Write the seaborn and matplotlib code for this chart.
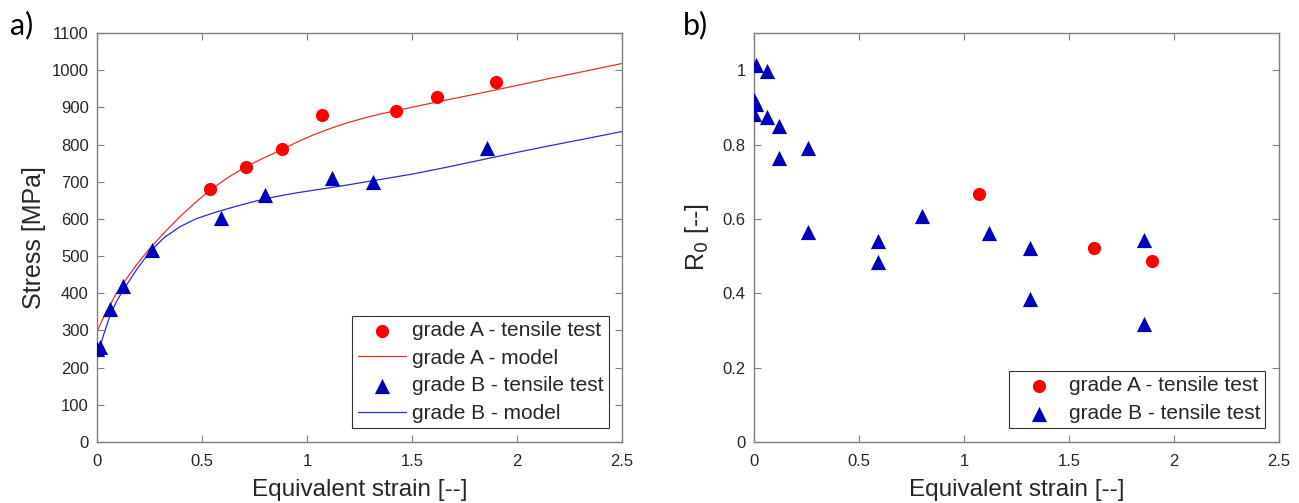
import matplotlib
matplotlib.use("Agg")
import matplotlib.pyplot as plt
import seaborn as sns
import numpy as np
import pandas as pd

# ---- data ----
a_strain = [0.54, 0.708, 0.881, 1.073, 1.422, 1.62, 1.899]
a_stress = [680, 739, 789, 879, 891, 928, 967]

b_strain = [0.0, 0.012, 0.062, 0.124, 0.262, 0.59, 0.80, 1.118, 1.316, 1.859]
b_stress = [250, 256, 357, 420, 516, 602, 665, 709, 698, 791]

a_model_x = [0.0, 0.03, 0.062, 0.09, 0.125, 0.19, 0.252, 0.32, 0.395, 0.47,
             0.54, 0.62, 0.705, 0.79, 0.879, 0.95, 1.03, 1.11, 1.189, 1.27,
             1.348, 1.506, 1.665, 1.824, 2.0, 2.157, 2.33, 2.5]
a_model_y = [297, 334, 368, 398, 427, 478, 521, 563, 606, 645,
             678, 710, 739, 763, 786, 806, 826, 843, 858, 871,
             882, 901, 920, 938, 959, 978, 998, 1018]

b_model_x = [0.0, 0.03, 0.062, 0.09, 0.125, 0.19, 0.252, 0.32, 0.395, 0.47,
             0.57, 0.65, 0.729, 0.8, 0.871, 0.95, 1.03, 1.11, 1.189, 1.348,
             1.506, 1.665, 1.824, 2.0, 2.157, 2.33, 2.5]
b_model_y = [225, 286, 340, 375, 409, 465, 512, 550, 579, 600,
             619, 632, 644, 654, 662, 670, 677, 684, 691, 706,
             721, 739, 758, 779, 797, 816, 835]

ra_strain = [1.073, 1.619, 1.895]
ra_r0 = [0.666, 0.522, 0.487]

rb_strain = [0.011, 0.06, 0.0, 0.01, 0.0, 0.06, 0.12, 0.259, 0.12, 0.259,
             0.59, 0.59, 0.80, 1.118, 1.316, 1.316, 1.857, 1.857]
rb_r0 = [1.015, 0.997, 0.92, 0.91, 0.881, 0.873, 0.849, 0.792, 0.764, 0.564,
         0.541, 0.483, 0.608, 0.561, 0.522, 0.384, 0.543, 0.317]

x_ticks = [0, 0.5, 1, 1.5, 2, 2.5]
x_tick_labels = ["0", "0.5", "1", "1.5", "2", "2.5"]
left_y_ticks = list(range(0, 1101, 100))
right_y_ticks = [0, 0.2, 0.4, 0.6, 0.8, 1]
right_y_tick_labels = ["0", "0.2", "0.4", "0.6", "0.8", "1"]

# ---- style ----
sns.set_theme(style="white")
plt.rcParams["font.family"] = ["Liberation Sans", "DejaVu Sans"]

RED = "#ff0000"
RED_LINE = "#e8302a"
BLUE = "#0000bb"
BLUE_LINE = "#2a2ad8"
AX_COL = "#7f7f7f"
TXT = "#262626"

fig = plt.figure(figsize=(12.99, 5.03), dpi=100)
ax1 = fig.add_axes([0.0747, 0.1213, 0.4042, 0.8131])
ax2 = fig.add_axes([0.5804, 0.1213, 0.4042, 0.8131])


def style_axes(ax):
    for s in ax.spines.values():
        s.set_visible(True)
        s.set_color(AX_COL)
        s.set_linewidth(1.0)
    ax.tick_params(axis="both", which="both", direction="in", length=5, width=0.8,
                   color=AX_COL, labelcolor=TXT, labelsize=12,
                   top=True, right=True, bottom=True, left=True,
                   labeltop=False, labelright=False)
    ax.tick_params(axis="x", pad=9)
    ax.tick_params(axis="y", pad=6)
    ax.set_xlim(0, 2.5)
    ax.set_xticks(x_ticks)
    ax.set_xticklabels(x_tick_labels)
    ax.grid(False)


def make_legend(ax):
    leg = ax.legend(loc="lower right", fontsize=15, frameon=True, fancybox=False,
                    edgecolor="#333333", borderpad=0.25, handlelength=2.3,
                    handletextpad=0.3, labelspacing=0.42, borderaxespad=0.65,
                    framealpha=1)
    leg.get_frame().set_linewidth(0.8)
    for t in leg.get_texts():
        t.set_color(TXT)
    return leg


# ---- panel a ----
sns.scatterplot(x=a_strain, y=a_stress, ax=ax1, marker="o", s=90, color=RED,
                edgecolor=RED, linewidth=0, label="grade A - tensile test", zorder=3)
sns.lineplot(x=a_model_x, y=a_model_y, ax=ax1, color=RED_LINE, linewidth=0.9,
             label="grade A - model", sort=True, estimator=None, zorder=2)
sns.scatterplot(x=b_strain, y=b_stress, ax=ax1, marker="^", s=120, color=BLUE,
                edgecolor=BLUE, linewidth=0, label="grade B - tensile test", zorder=3)
sns.lineplot(x=b_model_x, y=b_model_y, ax=ax1, color=BLUE_LINE, linewidth=0.9,
             label="grade B - model", sort=True, estimator=None, zorder=2)
style_axes(ax1)
ax1.set_ylim(0, 1100)
ax1.set_yticks(left_y_ticks)
ax1.set_xlabel("Equivalent strain [--]", fontsize=17.5, color=TXT, labelpad=7)
ax1.set_ylabel("Stress [MPa]", fontsize=18, color=TXT, labelpad=4)
make_legend(ax1)

# ---- panel b ----
sns.scatterplot(x=ra_strain, y=ra_r0, ax=ax2, marker="o", s=90, color=RED,
                edgecolor=RED, linewidth=0, label="grade A - tensile test", zorder=3)
sns.scatterplot(x=rb_strain, y=rb_r0, ax=ax2, marker="^", s=120, color=BLUE,
                edgecolor=BLUE, linewidth=0, label="grade B - tensile test", zorder=3)
style_axes(ax2)
ax2.set_ylim(0, 1.1)
ax2.set_yticks(right_y_ticks)
ax2.set_yticklabels(right_y_tick_labels)
ax2.set_xlabel("Equivalent strain [--]", fontsize=17.5, color=TXT, labelpad=7)
ax2.set_ylabel("R$_0$ [--]", fontsize=18, color=TXT, labelpad=8)
make_legend(ax2)

# panel labels
fig.text(0.008, 0.978, "a)", fontsize=22, color="black", va="top", ha="left",
         family=["Lato", "DejaVu Sans"])
fig.text(0.526, 0.978, "b)", fontsize=22, color="black", va="top", ha="left",
         family=["Lato", "DejaVu Sans"])

fig.savefig("out.png", dpi=100)
